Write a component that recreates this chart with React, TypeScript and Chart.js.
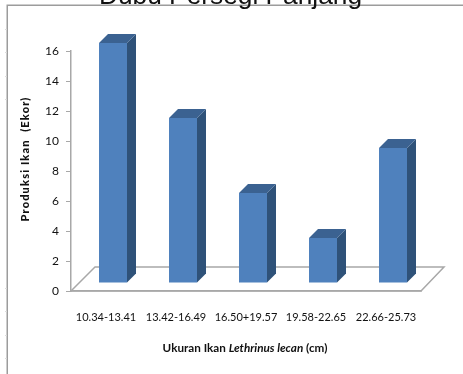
import React, { useEffect, useRef } from "react";
import { Chart, registerables } from "chart.js";

Chart.register(...registerables);

const titleText = "Dubu Persegi Panjang";
const categories = ["10.34-13.41", "13.42-16.49", "16.50+19.57", "19.58-22.65", "22.66-25.73"];
const production = [16, 11, 6, 3, 9];
const yTicks = [0, 2, 4, 6, 8, 10, 12, 14, 16];
const yTitle = "Produksi Ikan  (Ekor)";
const xTitleParts = [
  { text: "Ukuran Ikan ", italic: false },
  { text: "Lethrinus lecan", italic: true },
  { text: " (cm)", italic: false },
];
const frameTickYs = [29, 52, 76, 99, 288, 311, 335, 358];

const FONT = "Lato";
const BAR_DX = 7;
const BAR_DY = -8;
const DEPTH = 9;

const threeD = {
  id: "threeD",
  beforeDraw(chart: any) {
    const { ctx, width, height } = chart;
    ctx.save();
    ctx.strokeStyle = "#9c9c9c";
    ctx.lineWidth = 1.5;
    ctx.beginPath();
    ctx.moveTo(7.25, height);
    ctx.lineTo(7.25, 5.25);
    ctx.lineTo(width, 5.25);
    ctx.stroke();
    ctx.strokeStyle = "#dcdcdc";
    ctx.lineWidth = 1;
    frameTickYs.forEach((y) => {
      ctx.beginPath();
      ctx.moveTo(5, y + 0.5);
      ctx.lineTo(7, y + 0.5);
      ctx.stroke();
    });
    ctx.restore();
  },
  beforeDatasetsDraw(chart: any) {
    const { ctx, chartArea: a } = chart;
    ctx.save();
    ctx.strokeStyle = "#a8a8a8";
    ctx.lineWidth = 1.5;
    ctx.beginPath();
    ctx.moveTo(a.left, a.bottom);
    ctx.lineTo(a.left + 24, a.bottom - 24);
    ctx.lineTo(a.right + 23, a.bottom - 24);
    ctx.lineTo(a.right, a.bottom);
    ctx.closePath();
    ctx.stroke();
    ctx.restore();

    ctx.save();
    ctx.translate(BAR_DX, BAR_DY);
    const meta = chart.getDatasetMeta(0);
    meta.data.forEach((bar: any) => {
      const { x, y, base, width } = bar.getProps(["x", "y", "base", "width"], true);
      const l = x - width / 2;
      const r = x + width / 2;
      ctx.fillStyle = "#2f5279";
      ctx.beginPath();
      ctx.moveTo(r, y);
      ctx.lineTo(r + DEPTH, y - DEPTH);
      ctx.lineTo(r + DEPTH, base - DEPTH);
      ctx.lineTo(r, base);
      ctx.closePath();
      ctx.fill();
      ctx.fillStyle = "#3b6291";
      ctx.beginPath();
      ctx.moveTo(l, y);
      ctx.lineTo(l + DEPTH, y - DEPTH);
      ctx.lineTo(r + DEPTH, y - DEPTH);
      ctx.lineTo(r, y);
      ctx.closePath();
      ctx.fill();
    });
  },
  afterDatasetsDraw(chart: any) {
    chart.ctx.restore();
  },
  afterDraw(chart: any) {
    const { ctx } = chart;
    ctx.save();
    ctx.fillStyle = "#111";
    ctx.textBaseline = "middle";
    ctx.textAlign = "left";
    const fonts = xTitleParts.map((p) => `${p.italic ? "italic " : ""}bold 11.7px ${FONT}`);
    let total = 0;
    xTitleParts.forEach((p, i) => {
      ctx.font = fonts[i];
      total += ctx.measureText(p.text).width;
    });
    let x = 245 - total / 2;
    xTitleParts.forEach((p, i) => {
      ctx.font = fonts[i];
      ctx.fillText(p.text, x, 348);
      x += ctx.measureText(p.text).width;
    });
    ctx.translate(25.5, 159);
    ctx.rotate(-Math.PI / 2);
    ctx.textAlign = "center";
    ctx.font = `900 11px ${FONT}`;
    ctx.letterSpacing = "1.15px";
    ctx.fillText(yTitle, 0, 0);
    ctx.restore();
  },
};

export default function App() {
  const ref = useRef<HTMLCanvasElement>(null);
  useEffect(() => {
    const chart = new Chart(ref.current!, {
      type: "bar",
      data: {
        labels: categories,
        datasets: [
          {
            data: production,
            backgroundColor: "#4f81bd",
            borderWidth: 0,
            barPercentage: 0.4,
            categoryPercentage: 1,
          },
        ],
      },
      plugins: [threeD],
      options: {
        responsive: false,
        animation: false,
        layout: { padding: { left: 40, right: 42, top: 51, bottom: 38 } },
        plugins: {
          legend: { display: false },
          tooltip: { enabled: false },
          title: {
            display: true,
            text: titleText,
            color: "#111",
            font: { family: "Liberation Sans", size: 26.3, weight: "normal", lineHeight: 1.2 },
            padding: { top: -70, bottom: 38.44 },
          },
        },
        scales: {
          x: {
            afterFit: (s: any) => {
              s.height = 45;
            },
            grid: { display: false },
            border: { color: "#a8a8a8", width: 1.5 },
            ticks: { color: "#111", font: { family: FONT, size: 11 }, padding: 12, maxRotation: 0 },
          },
          y: {
            min: 0,
            max: 16,
            afterFit: (s: any) => {
              s.width = 31;
            },
            afterBuildTicks: (s: any) => {
              s.ticks = yTicks.map((value) => ({ value }));
            },
            grid: { drawOnChartArea: false, color: "#a8a8a8", tickLength: 5 },
            border: { color: "#a8a8a8", width: 1.5 },
            ticks: { color: "#111", font: { family: FONT, size: 12 }, padding: 7 },
          },
        },
      },
    } as any);
    return () => chart.destroy();
  }, []);
  return (
    <div style={{ position: "absolute", left: 0, top: 0 }}>
      <canvas ref={ref} width={463} height={374} style={{ display: "block", filter: "blur(0.35px)" }} />
    </div>
  );
}
